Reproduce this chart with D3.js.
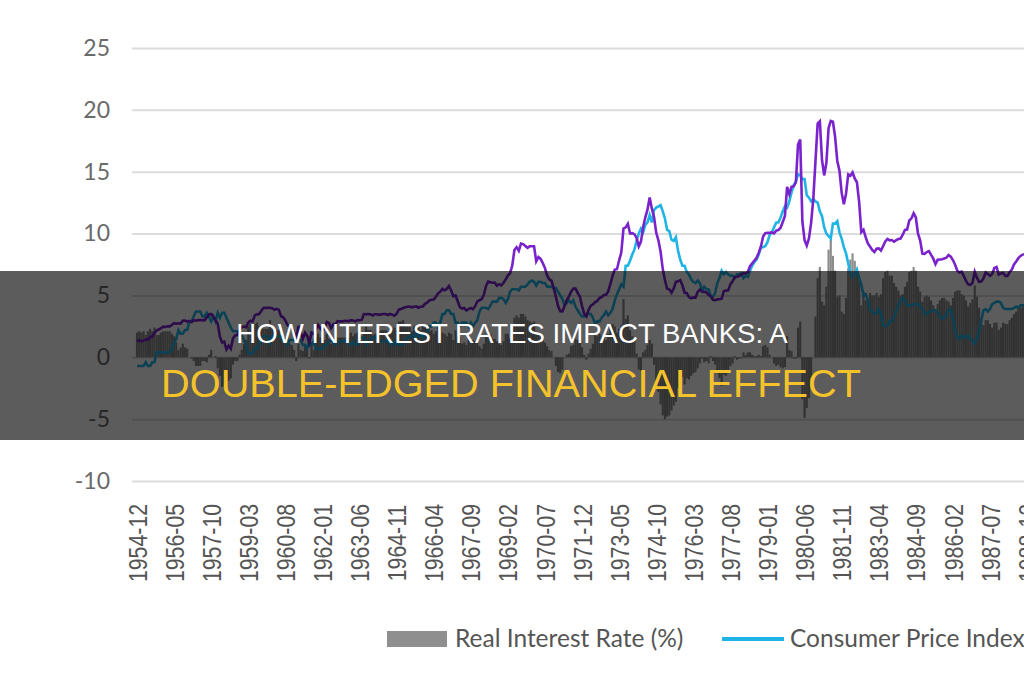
<!DOCTYPE html>
<html>
<head>
<meta charset="utf-8">
<script src="https://cdn.jsdelivr.net/npm/d3@7"></script>
<style>
  body { margin: 0; background: #fff; }
  svg { display: block; }
</style>
</head>
<body>
<script>
// monthly values, 1954-12 .. 1988-12
var fedFunds = [
  1.28,
  1.39,1.29,1.35,1.43,1.43,1.64,1.68,1.96,2.18,2.24,2.35,2.48,
  2.45,2.50,2.50,2.62,2.75,2.71,2.75,2.73,2.95,2.96,2.88,2.94,
  2.84,3.00,2.96,3.00,3.00,3.00,2.99,3.24,3.47,3.50,3.28,2.98,
  2.72,1.67,1.20,1.26,0.63,0.93,0.68,1.53,1.76,1.80,2.27,2.42,
  2.48,2.43,2.80,2.96,2.90,3.39,3.47,3.50,3.76,3.98,4.00,3.99,
  3.99,3.97,3.84,3.92,3.85,3.32,3.23,2.98,2.60,2.47,2.44,1.98,
  1.45,2.54,2.02,1.49,1.98,1.73,1.17,2.00,1.88,2.26,2.61,2.33,
  2.15,2.37,2.85,2.78,2.36,2.68,2.71,2.93,2.90,2.90,2.94,2.93,
  2.92,3.00,2.98,2.90,3.00,2.99,3.02,3.49,3.48,3.50,3.48,3.38,
  3.48,3.48,3.43,3.47,3.50,3.50,3.42,3.50,3.45,3.36,3.52,3.85,
  3.90,3.98,4.04,4.09,4.10,4.04,4.09,4.12,4.01,4.08,4.10,4.32,
  4.42,4.60,4.65,4.67,4.90,5.17,5.30,5.53,5.40,5.53,5.76,5.40,
  4.94,5.00,4.53,4.05,3.94,3.98,3.79,3.90,3.99,3.88,4.13,4.51,
  4.61,4.71,5.05,5.76,6.12,6.07,6.02,6.03,5.78,5.91,5.82,6.02,
  6.30,6.61,6.79,7.41,8.67,8.90,8.61,9.19,9.15,9.00,8.85,8.97,
  8.98,8.98,7.76,8.10,7.95,7.61,7.21,6.61,6.29,6.20,5.60,4.90,
  4.14,3.72,3.71,4.16,4.63,4.91,5.31,5.56,5.55,5.20,4.91,4.14,
  3.51,3.30,3.83,4.17,4.27,4.46,4.55,4.80,4.87,5.04,5.06,5.33,
  5.94,6.58,7.09,7.12,7.84,8.49,10.40,10.50,10.78,10.01,10.03,9.95,
  9.65,8.97,9.35,10.51,11.31,11.93,12.92,12.01,11.34,10.06,9.45,8.53,
  7.13,6.24,5.54,5.49,5.22,5.55,6.10,6.14,6.24,5.82,5.22,5.20,
  4.87,4.77,4.84,4.82,5.29,5.48,5.31,5.29,5.25,5.03,4.95,4.65,
  4.61,4.68,4.69,4.73,5.35,5.39,5.42,5.90,6.14,6.47,6.51,6.56,
  6.70,6.78,6.79,6.89,7.36,7.60,7.81,8.04,8.45,8.96,9.76,10.03,
  10.07,10.06,10.09,10.01,10.24,10.29,10.47,10.94,11.43,13.77,13.18,13.78,
  13.82,14.13,17.19,17.61,10.98,9.47,9.03,9.61,10.87,12.81,15.85,18.90,
  19.08,15.93,14.70,15.72,18.52,19.10,19.04,17.82,15.87,15.08,13.31,12.37,
  13.22,14.78,14.68,14.94,14.45,14.15,12.59,10.12,10.31,9.71,9.20,8.95,
  8.68,8.51,8.77,8.80,8.63,8.98,9.37,9.56,9.45,9.48,9.34,9.47,
  9.56,9.59,9.91,10.29,10.32,11.06,11.23,11.64,11.30,9.99,9.43,8.38,
  8.35,8.50,8.58,8.27,7.97,7.53,7.88,7.90,7.92,7.99,8.05,8.27,
  8.14,7.86,7.48,6.99,6.85,6.92,6.56,6.17,5.89,5.85,6.04,6.91,
  6.43,6.10,6.13,6.37,6.85,6.73,6.58,6.73,7.22,7.29,6.69,6.77,
  6.83,6.58,6.58,6.87,7.09,7.51,7.75,8.01,8.19,8.30,8.35,8.76
];

var cpi = [
  -0.7,
  -0.7,-0.7,-0.7,-0.4,-0.7,-0.7,-0.4,-0.4,0.4,0.4,0.4,0.4,
  0.4,0.4,0.4,0.7,1.1,1.5,2.2,1.9,1.9,2.2,2.2,2.9,
  2.9,3.3,3.7,3.7,3.7,3.3,3.3,3.6,3.3,2.9,3.3,2.9,
  3.6,3.2,3.6,3.6,3.2,2.8,2.4,2.1,2.1,2.1,2.1,1.8,
  1.4,1.0,0.3,0.3,0.3,0.7,0.7,1.0,1.4,1.7,1.7,1.7,
  1.0,1.7,1.7,1.7,1.7,1.7,1.4,1.4,1.0,1.4,1.4,1.4,
  1.7,1.4,1.4,1.0,1.0,0.7,1.3,1.0,1.3,0.7,0.7,0.7,
  0.7,1.0,1.0,1.3,1.3,1.3,1.0,1.3,1.3,1.3,1.3,1.3,
  1.3,1.0,1.3,1.0,1.0,1.3,1.6,1.6,1.0,1.3,1.3,1.6,
  1.6,1.6,1.3,1.3,1.3,1.3,1.3,1.0,1.3,1.0,1.3,1.0,
  1.0,1.0,1.3,1.6,1.6,1.9,1.6,1.9,1.6,1.9,1.6,1.9,
  1.9,2.5,2.5,2.8,2.8,2.5,2.8,3.5,3.5,3.8,3.8,3.5,
  3.5,2.8,2.8,2.5,2.8,2.8,2.8,2.5,2.8,2.5,2.8,3.0,
  3.7,4.0,4.0,4.0,3.9,4.2,4.5,4.5,4.5,4.8,4.8,4.7,
  4.4,4.7,5.3,5.5,5.5,5.5,5.4,5.7,5.7,5.7,5.9,6.1,
  6.2,6.1,5.8,6.1,6.1,6.0,6.0,5.7,5.7,5.7,5.6,5.6,
  5.3,5.0,4.7,4.2,4.4,4.6,4.4,4.6,4.1,3.8,3.5,3.3,
  3.3,3.5,3.5,3.5,3.2,2.7,2.9,2.9,3.2,3.4,3.7,3.4,
  3.6,3.9,4.6,5.1,5.5,5.9,5.7,7.4,7.4,7.8,8.3,8.7,
  9.4,10.0,10.4,10.1,10.7,10.9,11.5,10.9,11.9,12.1,12.2,12.3,
  11.8,11.2,10.3,10.2,9.5,9.4,9.7,8.6,7.9,7.4,7.4,6.9,
  6.7,6.3,6.1,6.0,6.2,6.0,5.4,5.7,5.5,5.5,4.9,4.9,
  5.2,6.0,6.4,7.0,6.7,6.9,6.7,6.6,6.6,6.4,6.7,6.7,
  6.8,6.4,6.6,6.5,7.0,7.4,7.7,7.9,8.3,8.9,8.9,9.0,
  9.3,9.9,10.1,10.5,10.9,10.9,11.3,11.8,12.2,12.1,12.6,13.3,
  13.9,14.2,14.8,14.7,14.4,14.4,13.1,12.9,12.6,12.8,12.6,12.5,
  11.8,11.4,10.5,10.0,9.8,9.6,10.8,10.8,11.0,10.1,9.6,8.9,
  8.4,7.6,6.8,6.5,6.7,7.1,6.4,5.9,5.0,5.1,4.6,3.8,
  3.7,3.5,3.6,3.9,3.5,2.6,2.5,2.6,2.9,2.9,3.3,3.8,
  4.2,4.6,4.8,4.6,4.2,4.2,4.2,4.3,4.3,4.3,4.1,3.9,
  3.5,3.5,3.7,3.7,3.8,3.8,3.6,3.3,3.1,3.2,3.5,3.8,
  3.9,3.1,2.2,1.6,1.5,1.8,1.6,1.6,1.8,1.5,1.3,1.1,
  1.5,2.1,3.0,3.8,3.9,3.7,3.9,4.3,4.4,4.5,4.5,4.4,
  4.0,3.9,3.9,3.9,3.9,4.0,4.1,4.0,4.2,4.2,4.2,4.4
];

var realRate = [
  2.0,
  2.1,2.0,2.1,1.8,2.1,2.3,2.1,2.4,1.8,1.8,2.0,2.1,
  2.1,2.1,2.1,1.9,1.7,1.2,0.6,0.8,1.1,0.8,0.7,0.0,
  -0.1,-0.3,-0.7,-0.7,-0.7,-0.3,-0.3,-0.4,0.2,0.6,0.0,0.1,
  -0.9,-1.5,-2.4,-2.3,-2.6,-1.9,-1.7,-0.6,-0.3,-0.3,0.2,0.6,
  1.1,1.4,2.5,2.7,2.6,2.7,2.8,2.5,2.4,2.3,2.3,2.3,
  3.0,2.3,2.1,2.2,2.2,1.6,1.8,1.6,1.6,1.1,1.0,0.6,
  -0.3,1.1,0.6,0.5,1.0,1.0,-0.1,1.0,0.6,1.6,1.9,1.6,
  1.5,1.4,1.9,1.5,1.1,1.4,1.7,1.6,1.6,1.6,1.6,1.6,
  1.6,2.0,1.7,1.9,2.0,1.7,1.4,1.9,2.5,2.2,2.2,1.8,
  1.9,1.9,2.1,2.2,2.2,2.2,2.1,2.5,2.2,2.4,2.2,2.9,
  2.9,3.0,2.7,2.5,2.5,2.1,2.5,2.2,2.4,2.2,2.5,2.4,
  2.5,2.1,2.2,1.9,2.1,2.7,2.5,2.0,1.9,1.7,2.0,1.9,
  1.4,2.2,1.7,1.6,1.1,1.2,1.0,1.4,1.2,1.4,1.3,1.5,
  0.9,0.7,1.1,1.8,2.2,1.9,1.5,1.5,1.3,1.1,1.0,1.3,
  1.9,1.9,1.5,1.9,3.2,3.4,3.2,3.5,3.5,3.3,3.0,2.9,
  2.8,2.9,2.0,2.0,1.9,1.6,1.2,0.9,0.6,0.5,0.0,-0.7,
  -1.2,-1.3,-1.0,0.0,0.2,0.3,0.9,1.0,1.5,1.4,1.4,0.8,
  0.2,-0.2,0.3,0.7,1.1,1.8,1.7,1.9,1.7,1.6,1.4,1.9,
  2.3,2.7,2.5,2.0,2.3,2.6,4.7,3.1,3.4,2.2,1.7,1.3,
  0.3,-1.0,-1.1,0.4,0.6,1.0,1.4,1.1,-0.6,-2.0,-2.8,-3.8,
  -4.7,-5.0,-4.8,-4.7,-4.3,-3.9,-3.6,-2.5,-1.7,-1.6,-2.2,-1.7,
  -1.8,-1.5,-1.3,-1.2,-0.9,-0.5,-0.1,-0.4,-0.3,-0.5,0.1,-0.3,
  -0.6,-1.3,-1.7,-2.3,-1.4,-1.5,-1.3,-0.7,-0.5,0.1,-0.2,-0.1,
  -0.1,0.4,0.2,0.4,0.4,0.2,0.1,0.1,0.2,0.1,0.9,1.0,
  0.8,0.2,0.0,-0.5,-0.7,-0.6,-0.8,-0.9,-0.8,1.7,0.6,0.5,
  -0.1,-0.1,2.4,2.9,-3.4,-4.9,-4.1,-3.3,-1.7,0.0,3.3,6.4,
  7.3,4.5,4.2,5.7,8.7,9.5,8.2,7.0,4.9,5.0,3.7,3.5,
  4.8,7.2,7.9,8.4,7.8,7.1,6.2,4.2,5.3,4.6,4.6,5.2,
  5.0,5.0,5.2,4.9,5.1,6.4,6.9,7.0,6.6,6.6,6.0,5.7,
  5.4,5.0,5.1,5.7,6.1,6.9,7.0,7.3,7.0,5.7,5.3,4.5,
  4.9,5.0,4.9,4.6,4.2,3.7,4.3,4.6,4.8,4.8,4.6,4.5,
  4.2,4.8,5.3,5.4,5.4,5.1,5.0,4.6,4.1,4.4,4.7,5.8,
  4.9,4.0,3.1,2.6,3.0,3.0,2.7,2.4,2.8,2.8,2.2,2.4,
  2.8,2.7,2.7,3.0,3.2,3.5,3.7,4.0,4.0,4.1,4.2,4.4
];

var xLabels = ["1954-12","1956-05","1957-10","1959-03","1960-08","1962-01","1963-06",
  "1964-11","1966-04","1967-09","1969-02","1970-07","1971-12","1973-05","1974-10",
  "1976-03","1977-08","1979-01","1980-06","1981-11","1983-04","1984-09","1986-02",
  "1987-07","1988-12"];
var yTicks = [-10,-5,0,5,10,15,20,25];

var width = 1024, height = 680;
var fmt = d3.timeFormat("%Y-%m");
var months = d3.timeMonth.range(new Date(1954,11,1), new Date(1989,0,1)).map(fmt);

var svg = d3.select("body").append("svg")
    .attr("width", width)
    .attr("height", height);

var step = 2.1816;
var x = d3.scalePoint()
    .domain(months)
    .range([137, 137 + (months.length - 1) * step]);
var y = d3.scaleLinear()
    .domain([-10, 25])
    .range([481, 48]);

// grid + y labels
var yAxis = svg.append("g")
    .attr("transform", "translate(132,0)")
    .call(d3.axisLeft(y).tickValues(yTicks).tickSize(-(width - 132)).tickPadding(22)
      .tickFormat(function(d) { return String(d); }));
yAxis.select(".domain").remove();
yAxis.selectAll("line").attr("stroke", "#dcdcdc").attr("stroke-width", 2);
yAxis.selectAll("text")
    .style("font-family", "Lato, 'Open Sans', sans-serif")
    .style("font-size", "23px")
    .attr("fill", "#6a6a6a");

// real interest rate bars
svg.append("g").selectAll("rect")
    .data(realRate)
  .enter().append("rect")
    .attr("x", function(d, i) { return x(months[i]) - step / 2; })
    .attr("width", step)
    .attr("y", function(d) { return y(Math.max(0, d)); })
    .attr("height", function(d) { return Math.abs(y(d) - y(0)); })
    .attr("fill", "#8c8c8c");

var line = d3.line()
    .x(function(d, i) { return x(months[i]); })
    .y(function(d) { return y(d); });

svg.append("path")
    .datum(cpi)
    .attr("d", line)
    .attr("fill", "none")
    .attr("stroke", "#1fb4e6")
    .attr("stroke-width", 2.6);

svg.append("path")
    .datum(fedFunds)
    .attr("d", line)
    .attr("fill", "none")
    .attr("stroke", "#7a22cc")
    .attr("stroke-width", 2.6);

// x labels
var xAxis = svg.append("g")
    .attr("transform", "translate(0,490)")
    .call(d3.axisBottom(x).tickValues(xLabels).tickSize(0).tickPadding(0));
xAxis.select(".domain").remove();
xAxis.selectAll("text")
    .style("font-family", "'Liberation Sans', Arial, sans-serif")
    .style("font-size", "26px")
    .attr("fill", "#555")
    .attr("text-anchor", "middle")
    .attr("dy", "0.35em")
    .attr("y", 0)
    .attr("transform", "translate(0,53) rotate(-90) scale(0.82,1)");

// legend
var legend = svg.append("g")
    .style("font-family", "Lato, 'Open Sans', sans-serif")
    .style("font-size", "24.5px");
legend.append("rect")
    .attr("x", 387).attr("y", 631).attr("width", 60).attr("height", 16)
    .attr("fill", "#8f8f8f");
legend.append("text")
    .attr("x", 455).attr("y", 647)
    .attr("fill", "#555")
    .text("Real Interest Rate (%)");
legend.append("line")
    .attr("x1", 722).attr("x2", 784).attr("y1", 639).attr("y2", 639)
    .attr("stroke", "#1fb4e6").attr("stroke-width", 4);
legend.append("text")
    .attr("x", 790).attr("y", 647)
    .attr("fill", "#555")
    .text("Consumer Price Index");

// title banner
svg.append("rect")
    .attr("x", 0).attr("y", 271).attr("width", width).attr("height", 169)
    .attr("fill", "rgba(0,0,0,0.64)");
svg.append("text")
    .attr("x", 512).attr("y", 343)
    .attr("text-anchor", "middle")
    .style("font-family", "'Liberation Sans', Arial, sans-serif")
    .style("font-size", "27.6px")
    .attr("fill", "#ffffff")
    .text("HOW INTEREST RATES IMPACT BANKS: A");
svg.append("text")
    .attr("x", 511).attr("y", 397)
    .attr("text-anchor", "middle")
    .style("font-family", "'Liberation Sans', Arial, sans-serif")
    .style("font-size", "39.7px")
    .attr("fill", "#f4c22b")
    .text("DOUBLE-EDGED FINANCIAL EFFECT");
</script>
</body>
</html>
